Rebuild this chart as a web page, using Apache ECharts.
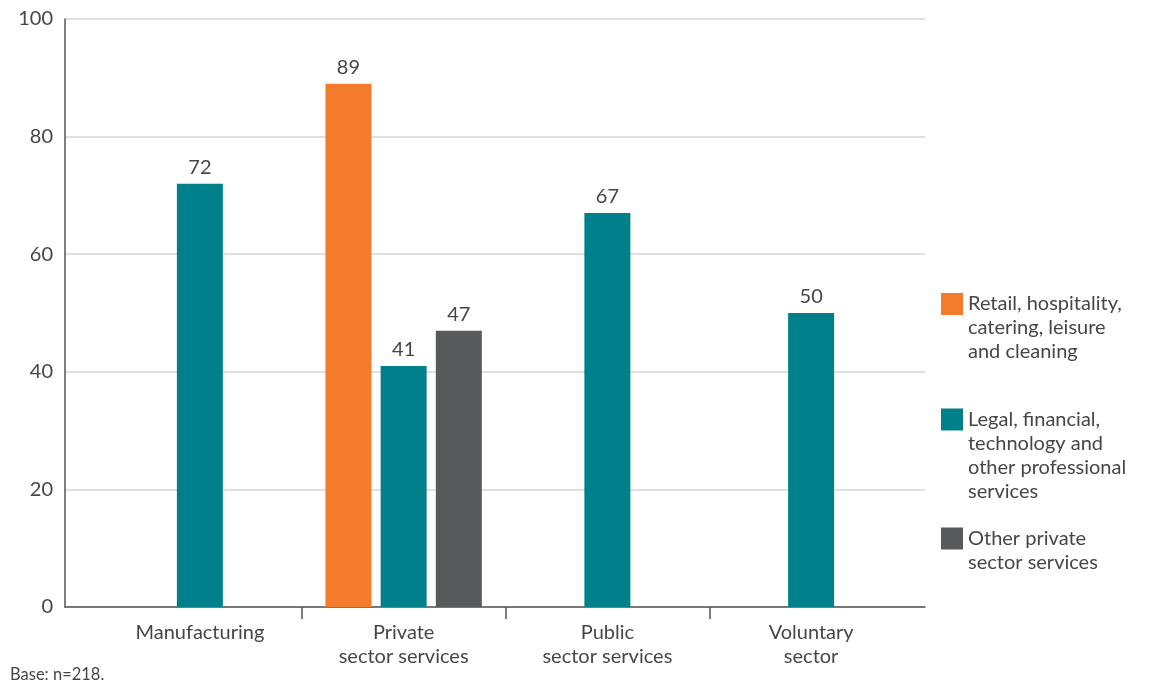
<!DOCTYPE html>
<html>
<head>
<meta charset="utf-8">
<title>Sector bar chart</title>
<script src="https://cdn.jsdelivr.net/npm/echarts@6/dist/echarts.min.js"></script>
<style>
  html, body { margin: 0; padding: 0; background: #ffffff; }
  #chart { width: 1151px; height: 687px; }
</style>
</head>
<body>
<div id="chart"></div>
<script>
// Categories along the x axis
const categories = ['Manufacturing', 'Private\nsector services', 'Public\nsector services', 'Voluntary\nsector'];

// Series names (legend text)
const seriesNames = [
  'Retail, hospitality,\ncatering, leisure\nand cleaning',
  'Legal, financial,\ntechnology and\nother professional\nservices',
  'Other private\nsector services'
];

// Values per series, one per category (null = no bar)
const retailValues = [null, 89, null, null];
const professionalValues = [72, 41, 67, 50];
const otherPrivateValues = [null, 47, null, null];

// Y axis scale
const yMin = 0;
const yMax = 100;
const yStep = 20;

const seriesColors = ['#F47B2B', '#00808A', '#58595B'];
const textColor = '#464646';
const fontFamily = 'Lato, "Open Sans", sans-serif';
const fontSize = 20;

// Layout
const plotTop = 19;
const plotBottom = 607;
const axisLeft = 65;
const axisRight = 925;
const bandLeft = 98;
const bandRight = 913;
const bandWidth = (bandRight - bandLeft) / categories.length;

const chart = echarts.init(document.getElementById('chart'));

// Each legend entry gets its own component so the swatch sits beside the
// first line of its text: blank lines above the name keep the block centred
// on the swatch while the first visible line lines up with it.
const lineH = 24;
function legendFor(i, iconCenterY) {
  const lines = seriesNames[i].split('\n').length;
  const total = 2 * lines - 1;
  return {
    show: true,
    data: [seriesNames[i]],
    formatter: name => '\n'.repeat(lines - 1) + name,
    left: 941,
    top: iconCenterY - (total * lineH) / 2,
    orient: 'vertical',
    padding: 0,
    itemGap: 0,
    itemWidth: 22,
    itemHeight: 22,
    icon: 'rect',
    selectedMode: false,
    textStyle: {
      color: textColor,
      fontFamily: fontFamily,
      fontSize: fontSize,
      lineHeight: lineH
    }
  };
}

const valueLabel = {
  show: true,
  position: 'top',
  distance: 6,
  color: textColor,
  fontFamily: fontFamily,
  fontSize: fontSize
};

const option = {
  animation: false,
  backgroundColor: '#ffffff',
  title: {
    text: 'Base: n=218.',
    left: 10,
    top: 666,
    padding: 0,
    textStyle: { color: textColor, fontFamily: fontFamily, fontSize: 16.5, fontWeight: 'normal' }
  },
  legend: [legendFor(0, 304), legendFor(1, 419.5), legendFor(2, 538.5)],
  grid: [
    // full-width frame: value axis, gridlines and baseline
    { left: axisLeft, top: plotTop, width: axisRight - axisLeft, height: plotBottom - plotTop },
    // category bands holding the bars
    { left: bandLeft, top: plotTop, width: bandRight - bandLeft, height: plotBottom - plotTop },
    // divider ticks between inner categories
    { left: bandLeft + bandWidth, top: plotTop, width: bandWidth * (categories.length - 2), height: plotBottom - plotTop }
  ],
  xAxis: [
    {
      gridIndex: 0, type: 'value', min: 0, max: 1,
      axisLine: { show: true, lineStyle: { color: '#555555', width: 1.5 } },
      axisTick: { show: false }, axisLabel: { show: false }, splitLine: { show: false }
    },
    {
      gridIndex: 1, type: 'category', data: categories,
      axisLine: { show: false },
      axisTick: { show: false },
      axisLabel: {
        color: textColor, fontFamily: fontFamily, fontSize: fontSize, lineHeight: 24, margin: 14, interval: 0
      }
    },
    {
      gridIndex: 2, type: 'value', min: 0, max: categories.length - 2, interval: 1,
      axisLine: { show: false },
      axisTick: { show: true, length: 12, lineStyle: { color: '#555555', width: 1.5 } },
      axisLabel: { show: false }, splitLine: { show: false }
    }
  ],
  yAxis: [
    {
      gridIndex: 0, type: 'value', min: yMin, max: yMax, interval: yStep,
      axisLine: { show: true, lineStyle: { color: '#555555', width: 1.5 } },
      axisTick: { show: false },
      axisLabel: { color: textColor, fontFamily: fontFamily, fontSize: fontSize, margin: 12 },
      splitLine: { show: true, lineStyle: { color: '#d6d6d6', width: 1.5 } }
    },
    { gridIndex: 1, type: 'value', min: yMin, max: yMax, show: false },
    { gridIndex: 2, type: 'value', min: yMin, max: yMax, show: false }
  ],
  series: [
    {
      name: seriesNames[0], type: 'bar', xAxisIndex: 1, yAxisIndex: 1,
      data: retailValues, barWidth: 46, barGap: '20%',
      itemStyle: { color: seriesColors[0] }, label: valueLabel
    },
    {
      name: seriesNames[1], type: 'bar', xAxisIndex: 1, yAxisIndex: 1,
      data: professionalValues, barWidth: 46, barGap: '20%',
      itemStyle: { color: seriesColors[1] }, label: valueLabel
    },
    {
      name: seriesNames[2], type: 'bar', xAxisIndex: 1, yAxisIndex: 1,
      data: otherPrivateValues, barWidth: 46, barGap: '20%',
      itemStyle: { color: seriesColors[2] }, label: valueLabel
    }
  ]
};

chart.setOption(option);
</script>
</body>
</html>
